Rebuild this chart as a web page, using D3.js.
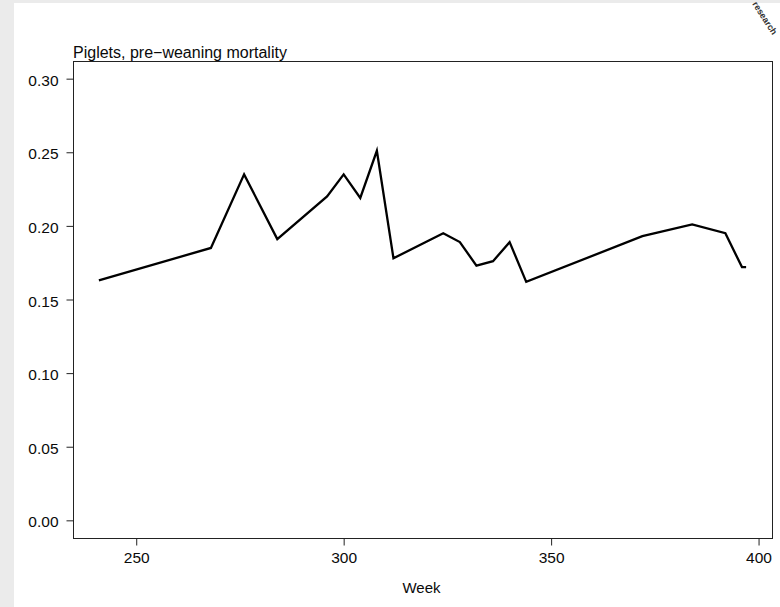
<!DOCTYPE html>
<html>
<head>
<meta charset="utf-8">
<script src="https://cdn.jsdelivr.net/npm/d3@7"></script>
<style>
  html, body { margin: 0; padding: 0; background: #ebebeb; }
  svg { display: block; }
</style>
</head>
<body>
<script>
// ---- data ----
const weeks = [241, 268, 276, 284, 296, 300, 304, 308, 312, 324, 328, 332, 336, 340, 344, 372, 384, 392, 396, 397];
const mortality = [0.163, 0.185, 0.235, 0.191, 0.220, 0.235, 0.219, 0.251, 0.178, 0.195, 0.189, 0.173, 0.176, 0.189, 0.162, 0.193, 0.201, 0.195, 0.172, 0.172];
const xTicks = [250, 300, 350, 400];
const yTicks = [0.00, 0.05, 0.10, 0.15, 0.20, 0.25, 0.30];
const title = "Piglets, pre\u2212weaning mortality";
const xLabel = "Week";

const W = 780, H = 607;
const box = { left: 73, top: 61, right: 772, bottom: 538 };

const svg = d3.select("body").append("svg").attr("width", W).attr("height", H);

// background panels
svg.append("rect").attr("x", 0).attr("y", 0).attr("width", W).attr("height", H).attr("fill", "#ebebeb");
svg.append("rect").attr("x", 14).attr("y", 3).attr("width", W - 14).attr("height", H - 3).attr("fill", "#ffffff");

// scales (R-style 4% padding)
const xMin = d3.min(weeks), xMax = d3.max(weeks);
const xPad = (xMax - xMin) * 0.04;
const x = d3.scaleLinear().domain([xMin - xPad, xMax + xPad]).range([box.left, box.right]);
const yPad = 0.30 * 0.04;
const y = d3.scaleLinear().domain([0 - yPad, 0.30 + yPad]).range([box.bottom, box.top]);

const font = "'Liberation Sans', Arial, Helvetica, sans-serif";

// frame
svg.append("rect")
  .attr("x", box.left + 0.5).attr("y", box.top + 0.5)
  .attr("width", box.right - box.left).attr("height", box.bottom - box.top)
  .attr("fill", "none").attr("stroke", "#222").attr("stroke-width", 1);

// y axis
const yAxis = d3.axisLeft(y).tickValues(yTicks).tickFormat(d3.format(".2f")).tickSize(7).tickPadding(8);
const gy = svg.append("g").attr("transform", `translate(${box.left + 0.5},0)`).call(yAxis);
gy.select(".domain").remove();
gy.selectAll(".tick line").attr("stroke", "#222");
gy.selectAll(".tick text").attr("font-family", font).attr("font-size", 15.5).attr("fill", "#0a0a0a").attr("dy", "0.42em");

// x axis
const xAxis = d3.axisBottom(x).tickValues(xTicks).tickFormat(d3.format("d")).tickSize(7).tickPadding(6);
const gx = svg.append("g").attr("transform", `translate(0,${box.bottom + 0.5})`).call(xAxis);
gx.select(".domain").remove();
gx.selectAll(".tick line").attr("stroke", "#222");
gx.selectAll(".tick text").attr("font-family", font).attr("font-size", 15.5).attr("fill", "#0a0a0a");

// x label
svg.append("text").attr("x", (box.left + box.right) / 2 - 1).attr("y", 593)
  .attr("text-anchor", "middle").attr("font-family", font).attr("font-size", 15)
  .attr("fill", "#0a0a0a").text(xLabel);

// title
svg.append("text").attr("x", box.left).attr("y", 58)
  .attr("font-family", font).attr("font-size", 16).attr("fill", "#0a0a0a").text(title);

// line
const data = weeks.map((w, i) => ({ w, v: mortality[i] }));
svg.append("path").datum(data)
  .attr("fill", "none").attr("stroke", "#000").attr("stroke-width", 2.3)
  .attr("stroke-linejoin", "miter").attr("stroke-miterlimit", 10)
  .attr("d", d3.line().x(d => x(d.w)).y(d => y(d.v)));

// watermark fragment (top-right corner), kept inside the page
svg.append("text").attr("transform", "translate(752,4) rotate(57)")
  .attr("font-family", font).attr("font-size", 9).attr("font-weight", "bold")
  .attr("fill", "#333").text("research");
</script>
</body>
</html>
